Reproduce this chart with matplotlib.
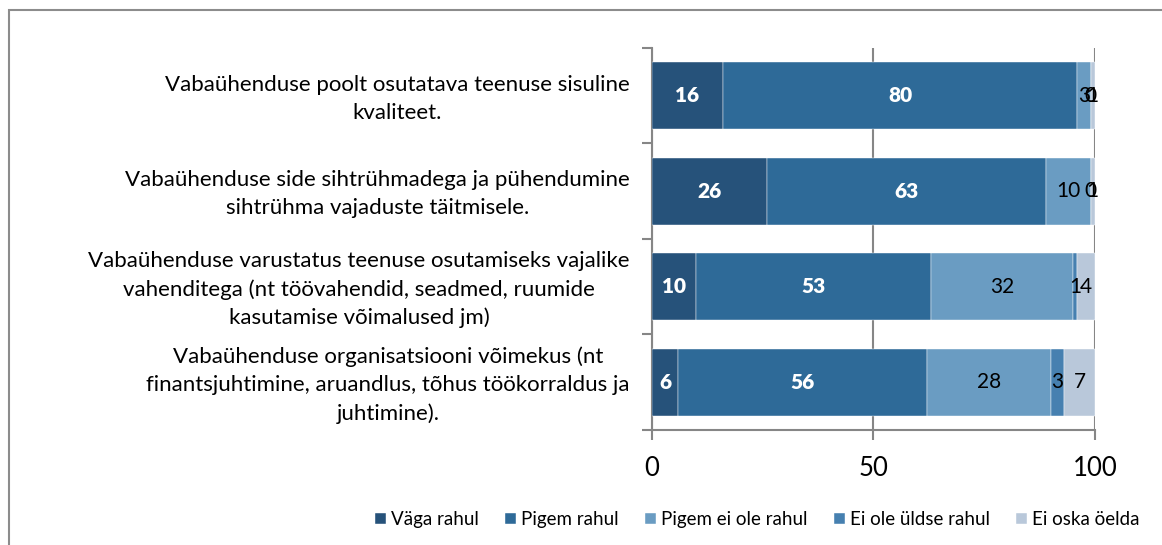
import matplotlib.pyplot as plt
import numpy as np
from matplotlib.patches import Rectangle

plt.rcParams['font.family'] = ['Lato', 'DejaVu Sans']

categories = [
    'Vabaühenduse poolt osutatava teenuse sisuline\nkvaliteet.',
    'Vabaühenduse side sihtrühmadega ja pühendumine\nsihtrühma vajaduste täitmisele.',
    'Vabaühenduse varustatus teenuse osutamiseks vajalike\nvahenditega (nt töövahendid, seadmed, ruumide\nkasutamise võimalused jm)',
    'Vabaühenduse organisatsiooni võimekus (nt\nfinantsjuhtimine, aruandlus, tõhus töökorraldus ja\njuhtimine).',
]
series = ['Väga rahul', 'Pigem rahul', 'Pigem ei ole rahul', 'Ei ole üldse rahul', 'Ei oska öelda']
vaga_rahul = [16, 26, 10, 6]
pigem_rahul = [80, 63, 53, 56]
pigem_ei_ole = [3, 10, 32, 28]
ei_ole_uldse = [0, 0, 1, 3]
ei_oska = [1, 1, 4, 7]
values = [vaga_rahul, pigem_rahul, pigem_ei_ole, ei_ole_uldse, ei_oska]
colors = ['#26527A', '#2E6A98', '#6A9CC2', '#4680B0', '#B9C8DA']

fig = plt.figure(figsize=(11.62, 5.45), dpi=100)
ax = fig.add_axes([0.561, 0.211, 0.3813, 0.701])

# ramka ümber joonise
fig.patches.append(Rectangle((9 / 1162, -0.05), 1.1, 1 - 10 / 545 + 0.05,
                             transform=fig.transFigure, fill=False,
                             edgecolor='#8C8C8C', linewidth=1.5))

y = np.arange(len(categories))
left = np.zeros(len(categories))
for i, (name, vals) in enumerate(zip(series, values)):
    vals = np.array(vals, dtype=float)
    ax.barh(y, vals, left=left, height=0.7, color=colors[i],
            edgecolor='white', linewidth=0.3, label=name, zorder=3)
    for j, v in enumerate(vals):
        cx = left[j] + v / 2
        if i < 2:
            ax.text(cx, y[j], f'{int(v)}', ha='center', va='center',
                    color='white', fontsize=15, fontweight='heavy', zorder=4)
        else:
            ax.text(cx, y[j], f'{int(v)}', ha='center', va='center',
                    color='black', fontsize=15, zorder=4)
    left += vals

ax.set_xlim(0, 100)
ax.set_ylim(3.5, -0.5)
ax.set_xticks([0, 50, 100])
ax.tick_params(axis='x', labelsize=18.5, length=7, width=1.5, color='#868686', pad=12)
ax.set_yticks([-0.5, 0.5, 1.5, 2.5, 3.5])
ax.set_yticklabels([])
ax.tick_params(axis='y', length=7, width=1.5, color='#868686')
ax.grid(axis='x', color='#868686', linewidth=1.5, zorder=0)
for s in ['top', 'right']:
    ax.spines[s].set_visible(False)
for s in ['left', 'bottom']:
    ax.spines[s].set_color('#868686')
    ax.spines[s].set_linewidth(1.5)

for j, cat in enumerate(categories):
    ax.text(-5, y[j] + 0.03, cat, ha='right', va='center', multialignment='center',
            fontsize=16, transform=ax.transData, clip_on=False, linespacing=1.5)

fig.legend(loc='lower right', bbox_to_anchor=(0.995, 0.0), ncol=5, frameon=False,
           fontsize=13.5, handlelength=0.6, handleheight=0.6, handletextpad=0.25,
           columnspacing=1.4)

fig.savefig('out.png', dpi=100)
